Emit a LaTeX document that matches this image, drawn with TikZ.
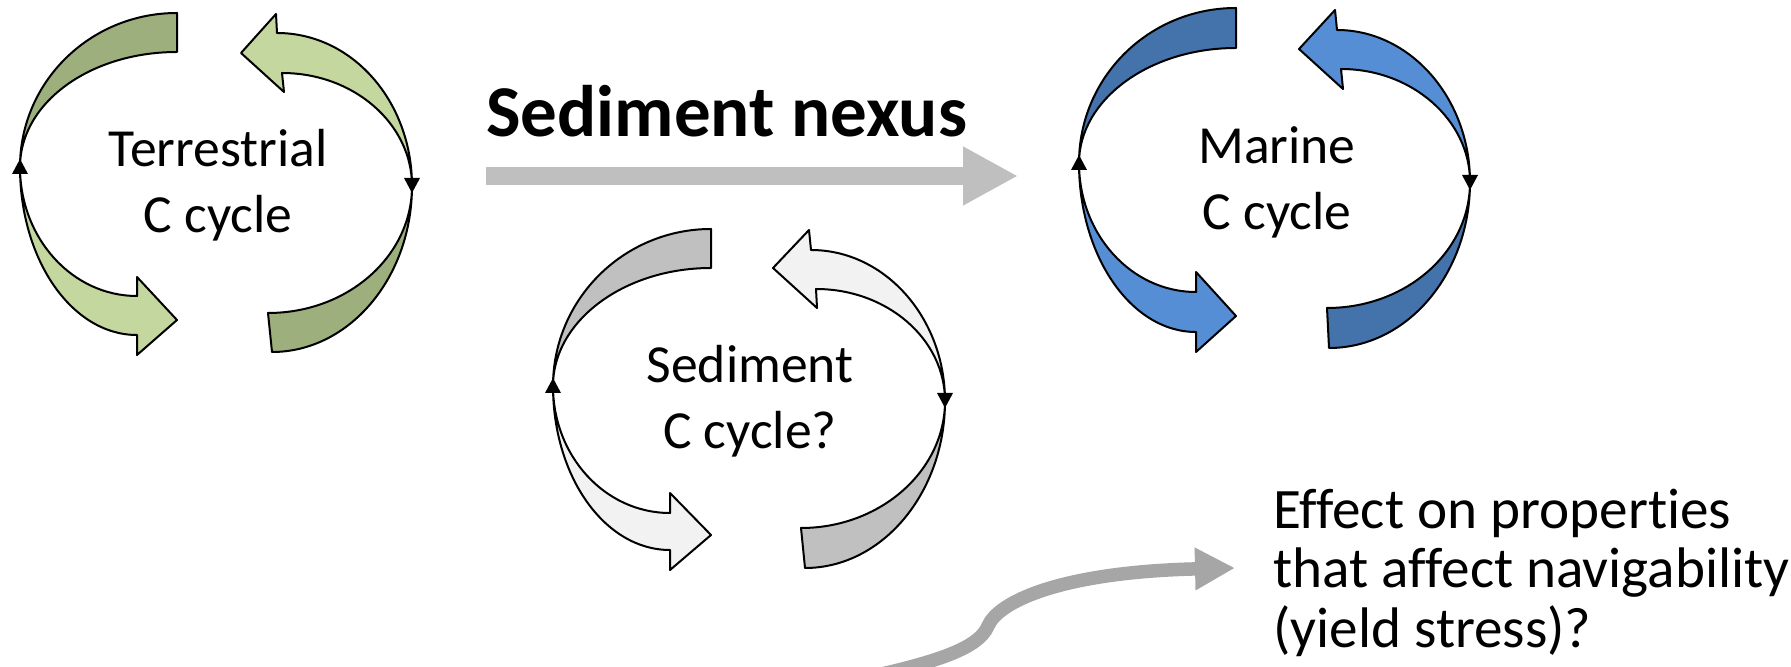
\documentclass[tikz,border=0pt]{standalone}
\usepackage{fontspec}
\setmainfont{Carlito}[Ligatures=NoCommon, RawFeature=-liga]
\usetikzlibrary{arrows.meta}

\definecolor{terrBack}{HTML}{9DAF7D}
\definecolor{terrFront}{HTML}{C4D79E}
\definecolor{sedBack}{HTML}{C0C0C0}
\definecolor{sedFront}{HTML}{F2F2F2}
\definecolor{marBack}{HTML}{4472AA}
\definecolor{marFront}{HTML}{558ED5}
\definecolor{flowGrey}{HTML}{BFBFBF}
\definecolor{linkGrey}{HTML}{A6A6A6}

\tikzset{
  band/.style={draw=black, line width=1pt, line join=round},
  terr back/.style={band, fill=terrBack},
  terr front/.style={band, fill=terrFront},
  sed back/.style={band, fill=sedBack},
  sed front/.style={band, fill=sedFront},
  mar back/.style={band, fill=marBack},
  mar front/.style={band, fill=marFront},
  pin/.style={fill=black},
  cyctext/.style={font=\fontsize{26.8}{33}\selectfont, align=center, inner sep=0pt},
  nexus arrow/.style={draw=flowGrey, line width=9pt,
    -{Triangle[length=27.5pt, width=27.5pt]}},
  link arrow/.style={draw=linkGrey, line width=6.75pt,
    -{Triangle[length=20pt, width=20pt]}},
}

\begin{document}
\begin{tikzpicture}[x=0.5pt, y=-0.5pt]
\useasboundingbox (0,0) rectangle (1791,667);
\clip (0,0) rectangle (1791,667);

% ---------- terrestrial carbon cycle ----------
\path[terr back] (177,13) .. controls (90,13) and (20,82) .. (20,167)
  .. controls (20,103) and (90,52) .. (177,52) -- cycle;
\path[terr front] (20,167) .. controls (20,260) and (72,335) .. (137,335)
  -- (137,355) -- (177,320) -- (137,277) -- (137,296)
  .. controls (72,296) and (20,238) .. (20,167) -- cycle;
\path[terr front] (277,33) .. controls (352,33) and (412,101) .. (412,186)
  .. controls (412,124) and (354,73) .. (282,73)
  -- (284,92) -- (241,53) -- (276,14) -- cycle;
\path[terr back] (412,186) .. controls (412,278) and (349,352) .. (272,352)
  -- (268,313) .. controls (348,313) and (412,256) .. (412,186) -- cycle;
\path[pin] (20,159) -- (28,174) -- (12,174) -- cycle;
\path[pin] (412,193) -- (420,178) -- (404,178) -- cycle;
% the base anchor of a two-line node sits on its last line
\node[cyctext, anchor=base] (terr) at (218,233) {Terrestrial\\C cycle};

% ---------- sediment carbon cycle ----------
\path[sed back] (711,229) .. controls (624,229) and (553,299) .. (553,386)
  .. controls (553,321) and (624,268) .. (711,268) -- cycle;
\path[sed front] (553,386) .. controls (553,477) and (605,550) .. (670,550)
  -- (670,570) -- (711,535) -- (670,493) -- (670,513)
  .. controls (605,513) and (553,456) .. (553,386) -- cycle;
\path[sed front] (811,250) .. controls (885,250) and (945,318) .. (945,401)
  .. controls (945,339) and (887,289) .. (816,289)
  -- (817,308) -- (773,268) -- (809,230) -- cycle;
\path[sed back] (945,401) .. controls (945,493) and (882,568) .. (805,568)
  -- (801,528) .. controls (880,528) and (945,471) .. (945,401) -- cycle;
\path[pin] (553,378) -- (561,393) -- (545,393) -- cycle;
\path[pin] (945,408) -- (953,393) -- (937,393) -- cycle;
\node[cyctext, anchor=base] (sed) at (750,449) {Sediment\\C cycle?};

% ---------- marine carbon cycle ----------
\path[mar back] (1236,8) .. controls (1149,8) and (1079,77) .. (1079,163)
  .. controls (1079,100) and (1149,48) .. (1236,48) -- cycle;
\path[mar front] (1079,163) .. controls (1079,256) and (1131,332) .. (1196,332)
  -- (1196,352) -- (1236,316) -- (1196,272) -- (1196,292)
  .. controls (1131,292) and (1079,234) .. (1079,163) -- cycle;
\path[mar front] (1337,30) .. controls (1410,30) and (1470,98) .. (1470,182)
  .. controls (1470,120) and (1412,69) .. (1341,69)
  -- (1343,89) -- (1299,49) -- (1335,10) -- cycle;
\path[mar back] (1470,182) .. controls (1470,274) and (1407,348) .. (1329,348)
  -- (1327,308) .. controls (1406,308) and (1470,252) .. (1470,182) -- cycle;
\path[pin] (1079,155) -- (1087,170) -- (1071,170) -- cycle;
\path[pin] (1470,190) -- (1478,175) -- (1462,175) -- cycle;
\node[cyctext, anchor=base] (mar) at (1277,230) {Marine\\C cycle};

% ---------- sediment nexus ----------
\node[font=\fontsize{36.5}{44}\selectfont\bfseries, anchor=base west, inner sep=0pt]
  (nexus) at (486,137) {Sediment nexus};
\coordinate (nexusFrom) at (486,176);
\coordinate (nexusTo) at (1018,176);
\draw[nexus arrow] (nexusFrom) -- (nexusTo);

% ---------- navigability ----------
\node[font=\fontsize{28.6}{29.75}\selectfont, align=left, anchor=base west, inner sep=0pt]
  (effect) at (1273,647) {Effect on properties\\that affect navigability\\(yield stress)?};
\coordinate (linkFrom) at (850,681);
\coordinate (linkBend) at (988,626);
\coordinate (linkTo) at (1235,568);
\draw[link arrow] (linkFrom) .. controls (930,664) and (978,650) .. (linkBend)
  .. controls (998,602) and (1060,572) .. (linkTo);
\end{tikzpicture}
\end{document}
